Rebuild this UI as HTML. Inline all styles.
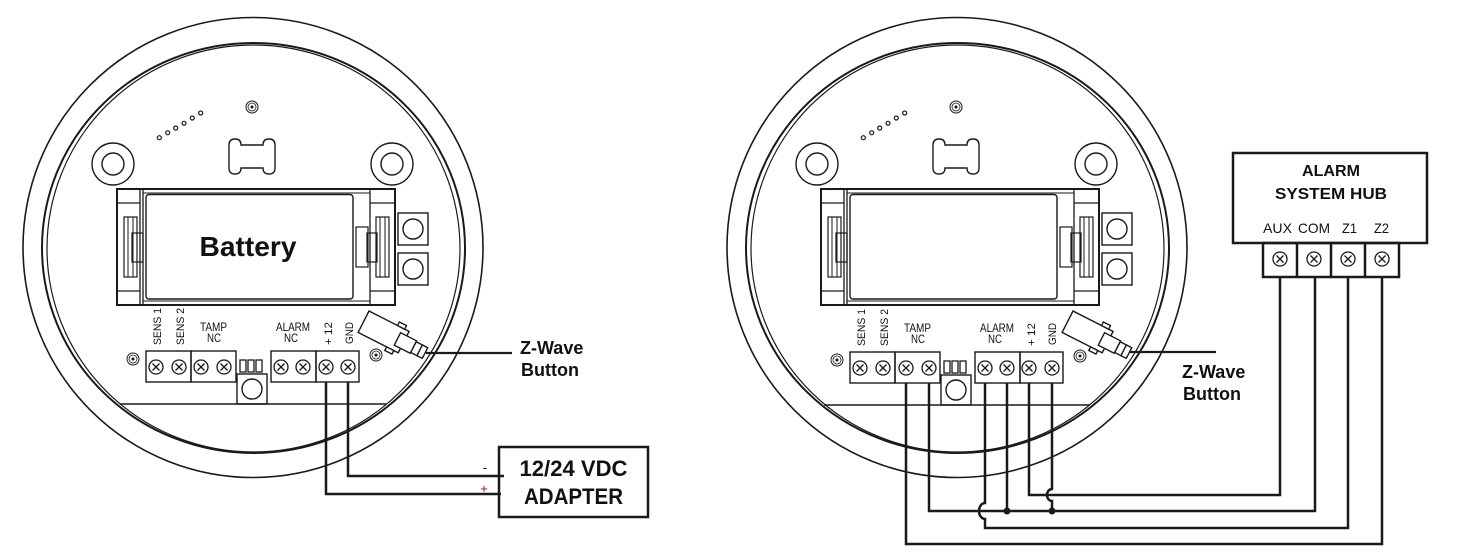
<!DOCTYPE html>
<html><head><meta charset="utf-8">
<style>
html,body{margin:0;padding:0;background:#fff;}
svg{display:block;}
text{font-family:"Liberation Sans",Arial,sans-serif;fill:#111;}
</style></head>
<body>
<svg width="1462" height="558" viewBox="0 0 1462 558" xmlns="http://www.w3.org/2000/svg">
<rect width="1462" height="558" fill="#fff"/>

<!-- ============ LEFT DEVICE ============ -->
<g fill="none" stroke="#1a1a1a">
  <circle cx="253" cy="247.5" r="230" stroke-width="1.6"/>
  <ellipse cx="253.5" cy="248" rx="211.5" ry="205" stroke-width="2"/>
  <ellipse cx="253.5" cy="248.5" rx="206.5" ry="203.5" stroke-width="1.2"/>
  <!-- screw holes -->
  <circle cx="113" cy="164" r="21" stroke-width="1.4"/>
  <circle cx="113" cy="164" r="11" stroke-width="1.4"/>
  <circle cx="392" cy="164" r="21" stroke-width="1.4"/>
  <circle cx="392" cy="164" r="11" stroke-width="1.4"/>
  <!-- target -->
  <circle cx="252" cy="107" r="6" stroke-width="1"/>
  <circle cx="252" cy="107" r="4" stroke-width="0.8"/>
  <!-- dots -->
  <circle cx="159.3" cy="137.7" r="2" stroke-width="1.2"/>
  <circle cx="167.7" cy="132.7" r="2" stroke-width="1.2"/>
  <circle cx="175.7" cy="128" r="2" stroke-width="1.2"/>
  <circle cx="184" cy="123.3" r="2" stroke-width="1.2"/>
  <circle cx="192.3" cy="118" r="2" stroke-width="1.2"/>
  <circle cx="200.7" cy="113" r="2" stroke-width="1.2"/>
  <!-- bone -->
  <path d="M235,139 Q241,139 241,145 L263,145 Q263,139 269,139 Q275,139 275,145 L275,168 Q275,174 269,174 Q263,174 263,168 L241,168 Q241,174 235,174 Q229,174 229,168 L229,145 Q229,139 235,139 Z" stroke-width="1.4"/>
  <!-- battery holder -->
  <rect x="117" y="189" width="278" height="116" stroke-width="2"/>
  <line x1="140" y1="189" x2="140" y2="305" stroke-width="1.3"/>
  <line x1="143" y1="189" x2="143" y2="305" stroke-width="1.3"/>
  <line x1="370" y1="189" x2="370" y2="305" stroke-width="1.3"/>
  <line x1="117" y1="203" x2="140" y2="203" stroke-width="1.3"/>
  <line x1="117" y1="291" x2="140" y2="291" stroke-width="1.3"/>
  <line x1="370" y1="203" x2="395" y2="203" stroke-width="1.3"/>
  <line x1="370" y1="291" x2="395" y2="291" stroke-width="1.3"/>
  <line x1="143" y1="193" x2="370" y2="193" stroke-width="1"/>
  <line x1="143" y1="301" x2="370" y2="301" stroke-width="1"/>
  <rect x="146" y="194.5" width="207" height="104.5" rx="3" stroke-width="1.4"/>
  <!-- left clip -->
  <rect x="124" y="217" width="13" height="60" stroke-width="1.2"/>
  <line x1="128" y1="217" x2="128" y2="277" stroke-width="1"/>
  <line x1="133" y1="217" x2="133" y2="277" stroke-width="1"/>
  <rect x="132" y="233" width="11" height="29" stroke-width="1.2"/>
  <!-- right clip -->
  <rect x="356" y="227" width="12" height="40" stroke-width="1.2"/>
  <rect x="367" y="233" width="10" height="29" stroke-width="1.2"/>
  <rect x="376" y="217" width="13" height="60" stroke-width="1.2"/>
  <line x1="380" y1="217" x2="380" y2="277" stroke-width="1"/>
  <line x1="385" y1="217" x2="385" y2="277" stroke-width="1"/>
  <!-- small squares -->
  <rect x="398" y="213" width="30" height="32" stroke-width="1.4"/>
  <circle cx="413" cy="229" r="10" stroke-width="1.4"/>
  <rect x="398" y="253" width="30" height="32" stroke-width="1.4"/>
  <circle cx="413" cy="269" r="10" stroke-width="1.4"/>
  <!-- pcb bottom -->
  <line x1="120" y1="404" x2="386" y2="404" stroke-width="1.4"/>
  <!-- terminal blocks -->
  <rect x="146" y="351" width="45" height="31" stroke-width="1.4"/>
  <rect x="191" y="351" width="45" height="31" stroke-width="1.4"/>
  <rect x="271" y="351" width="45" height="31" stroke-width="1.4"/>
  <rect x="316" y="351" width="43" height="31" stroke-width="1.4"/>
  <g stroke-width="1.3">
    <circle cx="156" cy="367" r="7"/><path d="M152.5,363.5 l7,7 M159.5,363.5 l-7,7"/>
    <circle cx="179" cy="367" r="7"/><path d="M175.5,363.5 l7,7 M182.5,363.5 l-7,7"/>
    <circle cx="201" cy="367" r="7"/><path d="M197.5,363.5 l7,7 M204.5,363.5 l-7,7"/>
    <circle cx="224" cy="367" r="7"/><path d="M220.5,363.5 l7,7 M227.5,363.5 l-7,7"/>
    <circle cx="281" cy="367" r="7"/><path d="M277.5,363.5 l7,7 M284.5,363.5 l-7,7"/>
    <circle cx="303" cy="367" r="7"/><path d="M299.5,363.5 l7,7 M306.5,363.5 l-7,7"/>
    <circle cx="326" cy="367" r="7"/><path d="M322.5,363.5 l7,7 M329.5,363.5 l-7,7"/>
    <circle cx="348" cy="367" r="7"/><path d="M344.5,363.5 l7,7 M351.5,363.5 l-7,7"/>
  </g>
  <rect x="240" y="360" width="6" height="12" stroke-width="1.3"/>
  <rect x="248" y="360" width="6" height="12" stroke-width="1.3"/>
  <rect x="256" y="360" width="6" height="12" stroke-width="1.3"/>
  <rect x="237" y="374" width="30" height="30" stroke-width="1.4"/>
  <circle cx="252" cy="389" r="10" stroke-width="1.4"/>
  <circle cx="133" cy="359" r="6" stroke-width="1"/>
  <circle cx="133" cy="359" r="4" stroke-width="0.8"/>
  <circle cx="376" cy="355" r="6" stroke-width="1"/>
  <circle cx="376" cy="355" r="4" stroke-width="0.8"/>
  <!-- z-wave button -->
  <g transform="translate(369,311) rotate(27)" stroke-width="1.4" fill="#fff">
    <rect x="0" y="0" width="45" height="24"/>
    <rect x="32" y="-4" width="8" height="4"/>
    <rect x="32" y="24" width="8" height="4"/>
    <rect x="38" y="5" width="18" height="14"/>
    <rect x="56" y="6" width="7" height="12"/>
    <rect x="63" y="6" width="6" height="12"/>
  </g>
  <line x1="426" y1="353" x2="512" y2="353" stroke-width="2.2"/>
</g>
<g fill="#111">
  <circle cx="252" cy="107" r="1.5"/>
  <circle cx="133" cy="359" r="1.5"/>
  <circle cx="376" cy="355" r="1.5"/>
</g>
<text x="248" y="256" font-size="28" font-weight="bold" text-anchor="middle" textLength="97" lengthAdjust="spacingAndGlyphs">Battery</text>
<g font-size="11">
  <text transform="translate(161,345) rotate(-90)" textLength="37" lengthAdjust="spacingAndGlyphs">SENS 1</text>
  <text transform="translate(184,345) rotate(-90)" textLength="37" lengthAdjust="spacingAndGlyphs">SENS 2</text>
  <text transform="translate(332,345) rotate(-90)" textLength="23" lengthAdjust="spacingAndGlyphs">+ 12</text>
  <text transform="translate(353,344) rotate(-90)" textLength="22" lengthAdjust="spacingAndGlyphs">GND</text>
  <text x="200" y="331" font-size="12" textLength="27" lengthAdjust="spacingAndGlyphs">TAMP</text>
  <text x="207" y="342" font-size="12" textLength="14" lengthAdjust="spacingAndGlyphs">NC</text>
  <text x="276" y="331" font-size="12" textLength="34" lengthAdjust="spacingAndGlyphs">ALARM</text>
  <text x="284" y="342" font-size="12" textLength="14" lengthAdjust="spacingAndGlyphs">NC</text>
</g>
<text x="520" y="354" font-size="18" font-weight="bold">Z-Wave</text>
<text x="521" y="376" font-size="18" font-weight="bold">Button</text>

<!-- left wiring + adapter -->
<g fill="none" stroke="#1a1a1a" stroke-width="2.5">
  <path d="M326,382 V494 H501"/>
  <path d="M348,382 V476 H504"/>
  <rect x="499" y="447" width="149" height="70"/>
</g>
<text x="573.5" y="476" font-size="22" font-weight="bold" text-anchor="middle" textLength="108" lengthAdjust="spacingAndGlyphs">12/24 VDC</text>
<text x="573.5" y="504" font-size="22" font-weight="bold" text-anchor="middle" textLength="99" lengthAdjust="spacingAndGlyphs">ADAPTER</text>
<text x="485" y="472" font-size="14" text-anchor="middle">-</text>
<text x="484" y="493" font-size="13" text-anchor="middle" style="fill:#7a1c1c">+</text>

<!-- ============ RIGHT DEVICE ============ -->
<g transform="translate(704,0)">
<g fill="none" stroke="#1a1a1a">
  <circle cx="253" cy="247.5" r="230" stroke-width="1.6"/>
  <ellipse cx="253.5" cy="248" rx="211.5" ry="205" stroke-width="2"/>
  <ellipse cx="253.5" cy="248.5" rx="206.5" ry="203.5" stroke-width="1.2"/>
  <circle cx="113" cy="164" r="21" stroke-width="1.4"/>
  <circle cx="113" cy="164" r="11" stroke-width="1.4"/>
  <circle cx="392" cy="164" r="21" stroke-width="1.4"/>
  <circle cx="392" cy="164" r="11" stroke-width="1.4"/>
  <circle cx="252" cy="107" r="6" stroke-width="1"/>
  <circle cx="252" cy="107" r="4" stroke-width="0.8"/>
  <circle cx="159.3" cy="137.7" r="2" stroke-width="1.2"/>
  <circle cx="167.7" cy="132.7" r="2" stroke-width="1.2"/>
  <circle cx="175.7" cy="128" r="2" stroke-width="1.2"/>
  <circle cx="184" cy="123.3" r="2" stroke-width="1.2"/>
  <circle cx="192.3" cy="118" r="2" stroke-width="1.2"/>
  <circle cx="200.7" cy="113" r="2" stroke-width="1.2"/>
  <path d="M235,139 Q241,139 241,145 L263,145 Q263,139 269,139 Q275,139 275,145 L275,168 Q275,174 269,174 Q263,174 263,168 L241,168 Q241,174 235,174 Q229,174 229,168 L229,145 Q229,139 235,139 Z" stroke-width="1.4"/>
  <rect x="117" y="189" width="278" height="116" stroke-width="2"/>
  <line x1="140" y1="189" x2="140" y2="305" stroke-width="1.3"/>
  <line x1="143" y1="189" x2="143" y2="305" stroke-width="1.3"/>
  <line x1="370" y1="189" x2="370" y2="305" stroke-width="1.3"/>
  <line x1="117" y1="203" x2="140" y2="203" stroke-width="1.3"/>
  <line x1="117" y1="291" x2="140" y2="291" stroke-width="1.3"/>
  <line x1="370" y1="203" x2="395" y2="203" stroke-width="1.3"/>
  <line x1="370" y1="291" x2="395" y2="291" stroke-width="1.3"/>
  <line x1="143" y1="193" x2="370" y2="193" stroke-width="1"/>
  <line x1="143" y1="301" x2="370" y2="301" stroke-width="1"/>
  <rect x="146" y="194.5" width="207" height="104.5" rx="3" stroke-width="1.4"/>
  <rect x="124" y="217" width="13" height="60" stroke-width="1.2"/>
  <line x1="128" y1="217" x2="128" y2="277" stroke-width="1"/>
  <line x1="133" y1="217" x2="133" y2="277" stroke-width="1"/>
  <rect x="132" y="233" width="11" height="29" stroke-width="1.2"/>
  <rect x="356" y="227" width="12" height="40" stroke-width="1.2"/>
  <rect x="367" y="233" width="10" height="29" stroke-width="1.2"/>
  <rect x="376" y="217" width="13" height="60" stroke-width="1.2"/>
  <line x1="380" y1="217" x2="380" y2="277" stroke-width="1"/>
  <line x1="385" y1="217" x2="385" y2="277" stroke-width="1"/>
  <rect x="398" y="213" width="30" height="32" stroke-width="1.4"/>
  <circle cx="413" cy="229" r="10" stroke-width="1.4"/>
  <rect x="398" y="253" width="30" height="32" stroke-width="1.4"/>
  <circle cx="413" cy="269" r="10" stroke-width="1.4"/>
  <line x1="120" y1="405" x2="386" y2="405" stroke-width="1.4"/>
  <rect x="146" y="352" width="45" height="31" stroke-width="1.4"/>
  <rect x="191" y="352" width="45" height="31" stroke-width="1.4"/>
  <rect x="271" y="352" width="45" height="31" stroke-width="1.4"/>
  <rect x="316" y="352" width="43" height="31" stroke-width="1.4"/>
  <g stroke-width="1.3">
    <circle cx="156" cy="368" r="7"/><path d="M152.5,364.5 l7,7 M159.5,364.5 l-7,7"/>
    <circle cx="179" cy="368" r="7"/><path d="M175.5,364.5 l7,7 M182.5,364.5 l-7,7"/>
    <circle cx="202" cy="368" r="7"/><path d="M198.5,364.5 l7,7 M205.5,364.5 l-7,7"/>
    <circle cx="225" cy="368" r="7"/><path d="M221.5,364.5 l7,7 M228.5,364.5 l-7,7"/>
    <circle cx="281" cy="368" r="7"/><path d="M277.5,364.5 l7,7 M284.5,364.5 l-7,7"/>
    <circle cx="303" cy="368" r="7"/><path d="M299.5,364.5 l7,7 M306.5,364.5 l-7,7"/>
    <circle cx="325" cy="368" r="7"/><path d="M321.5,364.5 l7,7 M328.5,364.5 l-7,7"/>
    <circle cx="348" cy="368" r="7"/><path d="M344.5,364.5 l7,7 M351.5,364.5 l-7,7"/>
  </g>
  <rect x="240" y="361" width="6" height="12" stroke-width="1.3"/>
  <rect x="248" y="361" width="6" height="12" stroke-width="1.3"/>
  <rect x="256" y="361" width="6" height="12" stroke-width="1.3"/>
  <rect x="237" y="375" width="30" height="30" stroke-width="1.4"/>
  <circle cx="252" cy="390" r="10" stroke-width="1.4"/>
  <circle cx="133" cy="360" r="6" stroke-width="1"/>
  <circle cx="133" cy="360" r="4" stroke-width="0.8"/>
  <circle cx="376" cy="356" r="6" stroke-width="1"/>
  <circle cx="376" cy="356" r="4" stroke-width="0.8"/>
  <g transform="translate(369,311) rotate(27)" stroke-width="1.4" fill="#fff">
    <rect x="0" y="0" width="45" height="24"/>
    <rect x="32" y="-4" width="8" height="4"/>
    <rect x="32" y="24" width="8" height="4"/>
    <rect x="38" y="5" width="18" height="14"/>
    <rect x="56" y="6" width="7" height="12"/>
    <rect x="63" y="6" width="6" height="12"/>
  </g>
  <line x1="425" y1="352" x2="512" y2="352" stroke-width="2.2"/>
</g>
<g fill="#111">
  <circle cx="252" cy="107" r="1.5"/>
  <circle cx="133" cy="360" r="1.5"/>
  <circle cx="376" cy="356" r="1.5"/>
</g>
<g font-size="11">
  <text transform="translate(161,346) rotate(-90)" textLength="37" lengthAdjust="spacingAndGlyphs">SENS 1</text>
  <text transform="translate(184,346) rotate(-90)" textLength="37" lengthAdjust="spacingAndGlyphs">SENS 2</text>
  <text transform="translate(331,346) rotate(-90)" textLength="23" lengthAdjust="spacingAndGlyphs">+ 12</text>
  <text transform="translate(352,345) rotate(-90)" textLength="22" lengthAdjust="spacingAndGlyphs">GND</text>
  <text x="200" y="332" font-size="12" textLength="27" lengthAdjust="spacingAndGlyphs">TAMP</text>
  <text x="207" y="343" font-size="12" textLength="14" lengthAdjust="spacingAndGlyphs">NC</text>
  <text x="276" y="332" font-size="12" textLength="34" lengthAdjust="spacingAndGlyphs">ALARM</text>
  <text x="284" y="343" font-size="12" textLength="14" lengthAdjust="spacingAndGlyphs">NC</text>
</g>
</g>
<text x="1182" y="378" font-size="18" font-weight="bold">Z-Wave</text>
<text x="1183" y="400" font-size="18" font-weight="bold">Button</text>

<!-- Hub -->
<g fill="none" stroke="#1a1a1a" stroke-width="2.5">
  <rect x="1233" y="153" width="194" height="90"/>
  <rect x="1263" y="243" width="136" height="34"/>
  <line x1="1297" y1="243" x2="1297" y2="277"/>
  <line x1="1331" y1="243" x2="1331" y2="277"/>
  <line x1="1365" y1="243" x2="1365" y2="277"/>
</g>
<g fill="none" stroke="#1a1a1a" stroke-width="1.3">
  <circle cx="1280" cy="259" r="7"/><path d="M1276.5,255.5 l7,7 M1283.5,255.5 l-7,7"/>
  <circle cx="1314" cy="259" r="7"/><path d="M1310.5,255.5 l7,7 M1317.5,255.5 l-7,7"/>
  <circle cx="1348" cy="259" r="7"/><path d="M1344.5,255.5 l7,7 M1351.5,255.5 l-7,7"/>
  <circle cx="1382" cy="259" r="7"/><path d="M1378.5,255.5 l7,7 M1385.5,255.5 l-7,7"/>
</g>
<text x="1331" y="176" font-size="16" font-weight="bold" text-anchor="middle" textLength="58" lengthAdjust="spacingAndGlyphs">ALARM</text>
<text x="1331" y="199" font-size="16" font-weight="bold" text-anchor="middle" textLength="112" lengthAdjust="spacingAndGlyphs">SYSTEM HUB</text>
<text x="1263" y="233" font-size="14" textLength="29" lengthAdjust="spacingAndGlyphs">AUX</text>
<text x="1298" y="233" font-size="14" textLength="32" lengthAdjust="spacingAndGlyphs">COM</text>
<text x="1342" y="233" font-size="14" textLength="15" lengthAdjust="spacingAndGlyphs">Z1</text>
<text x="1374" y="233" font-size="14" textLength="15" lengthAdjust="spacingAndGlyphs">Z2</text>

<!-- right wiring -->
<g fill="none" stroke="#1a1a1a" stroke-width="2.5">
  <path d="M906,383 V544 H1382 V277"/>
  <path d="M929,383 V511 H1315 V277"/>
  <path d="M985,383 V503 A6,8 0 0 0 985,519 V528 H1348 V277"/>
  <path d="M1007,383 V511"/>
  <path d="M1029,383 V495 H1280 V277"/>
  <path d="M1052,383 V489 A5,6 0 0 0 1052,501 V511"/>
</g>
<circle cx="1007" cy="511" r="3.5" fill="#1a1a1a"/>
<circle cx="1052" cy="511" r="3.5" fill="#1a1a1a"/>
</svg>
</body></html>
